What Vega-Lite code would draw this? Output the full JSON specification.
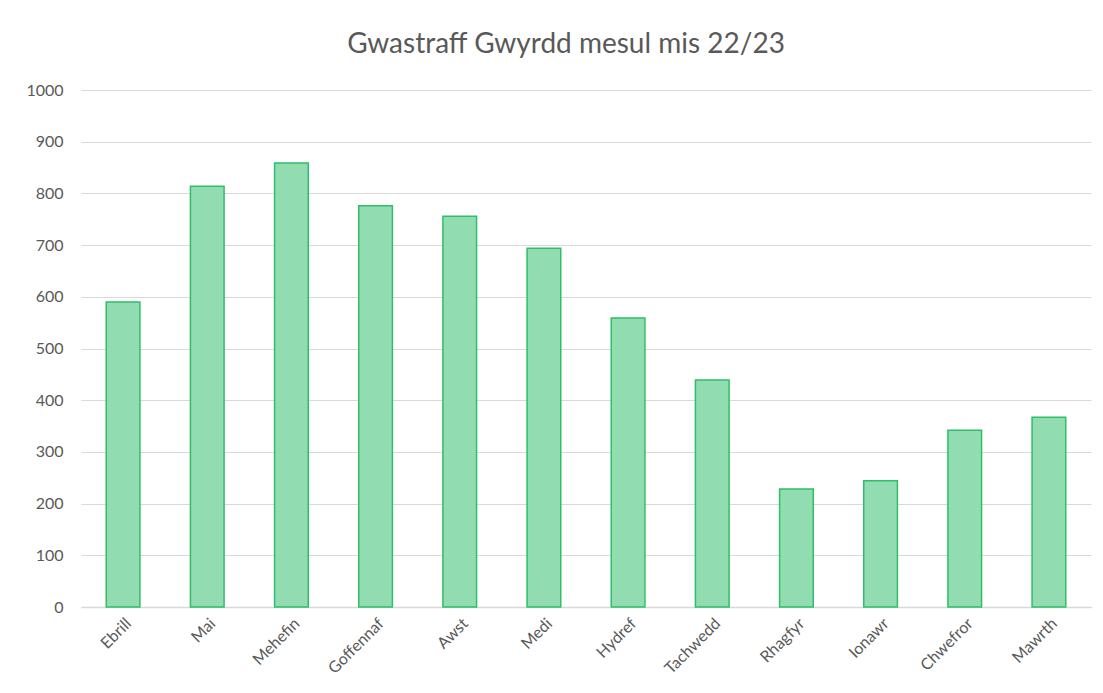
{
  "$schema": "https://vega.github.io/schema/vega-lite/v6.json",
  "autosize": "none",
  "width": 1010,
  "height": 517,
  "padding": {"left": 81, "top": 90, "right": 12, "bottom": 86},
  "background": "white",
  "title": {
    "text": "Gwastraff Gwyrdd mesul mis 22/23",
    "font": "Lato",
    "fontSize": 28,
    "fontWeight": "normal",
    "color": "#595959",
    "anchor": "middle",
    "offset": 23,
    "dx": -20
  },
  "data": {
    "values": [
      {"mis": "Ebrill", "tunelli": 590},
      {"mis": "Mai", "tunelli": 814},
      {"mis": "Mehefin", "tunelli": 859},
      {"mis": "Goffennaf", "tunelli": 776},
      {"mis": "Awst", "tunelli": 756},
      {"mis": "Medi", "tunelli": 694},
      {"mis": "Hydref", "tunelli": 559},
      {"mis": "Tachwedd", "tunelli": 439},
      {"mis": "Rhagfyr", "tunelli": 228},
      {"mis": "Ionawr", "tunelli": 244},
      {"mis": "Chwefror", "tunelli": 342},
      {"mis": "Mawrth", "tunelli": 367}
    ]
  },
  "mark": {"type": "bar", "fill": "#91dcb1", "stroke": "#2fbf68", "strokeWidth": 1.5},
  "encoding": {
    "x": {
      "field": "mis",
      "type": "nominal",
      "sort": null,
      "scale": {"paddingInner": 0.6, "paddingOuter": 0.3},
      "axis": {
        "title": null,
        "labelAngle": -45,
        "labelFont": "Lato",
        "labelFontSize": 16,
        "labelColor": "#595959",
        "ticks": false,
        "domainColor": "#d9d9d9",
        "domainWidth": 1.5,
        "labelPadding": 8
      }
    },
    "y": {
      "field": "tunelli",
      "type": "quantitative",
      "scale": {"domain": [0, 1000]},
      "axis": {
        "title": null,
        "format": "d",
        "values": [0, 100, 200, 300, 400, 500, 600, 700, 800, 900, 1000],
        "labelFont": "Lato",
        "labelFontSize": 16,
        "labelColor": "#595959",
        "ticks": false,
        "domain": false,
        "gridColor": "#d9d9d9",
        "gridWidth": 1,
        "labelPadding": 18
      }
    }
  },
  "config": {"view": {"stroke": null}}
}
